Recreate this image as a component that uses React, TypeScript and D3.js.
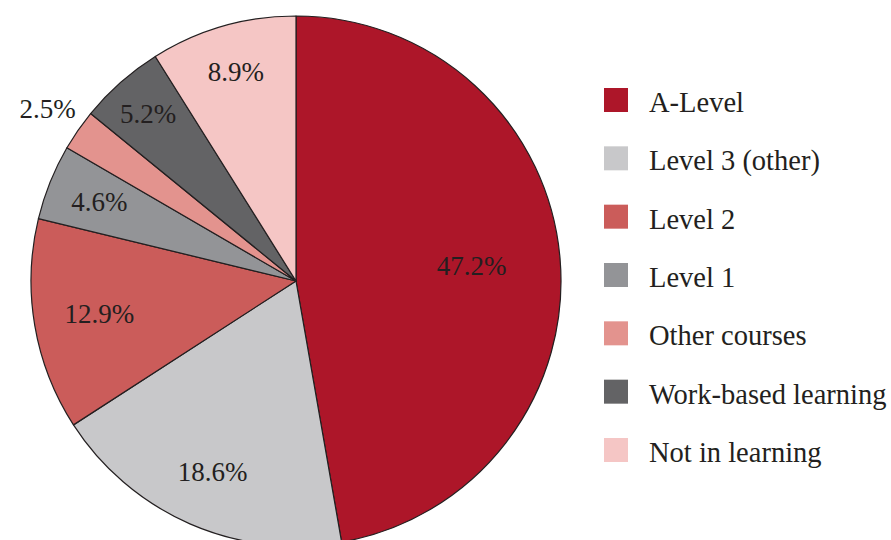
import React from "react";
import * as d3 from "d3";

const categories = [
  "A-Level",
  "Level 3 (other)",
  "Level 2",
  "Level 1",
  "Other courses",
  "Work-based learning",
  "Not in learning",
];
const values = [47.2, 18.6, 12.9, 4.6, 2.5, 5.2, 8.9];
const valueLabels = ["47.2%", "18.6%", "12.9%", "4.6%", "2.5%", "5.2%", "8.9%"];

const colors = ["#AD1629", "#C8C8CA", "#CB5C5A", "#939497", "#E3938E", "#636365", "#F5C6C5"];
// label distance from centre, as a fraction of the radius
const labelRadius = [0.665, 0.785, 0.753, 0.8, 1.14, 0.843, 0.82];

const W = 891;
const H = 540;
const cx = 296;
const cy = 281;
const R = 265;
const FONT = "Liberation Serif";
const TEXT = "#231f20";

export default function App() {
  const pie = d3
    .pie<number>()
    .sort(null)
    .value((d) => d)
    .startAngle(0)
    .endAngle(2 * Math.PI);
  const arcs = pie(values);
  const arc = d3.arc<d3.PieArcDatum<number>>().innerRadius(0).outerRadius(R);

  const legendY = d3
    .scalePoint<string>()
    .domain(categories)
    .range([88, 438]);

  return (
    <svg
      width={W}
      height={H}
      style={{ position: "absolute", left: 0, top: 0, background: "#fff", fontFamily: FONT }}
    >
      <g transform={`translate(${cx},${cy})`}>
        {arcs.map((a, i) => (
          <path
            key={i}
            d={arc(a) || ""}
            fill={colors[i]}
            stroke={TEXT}
            strokeWidth={1.2}
            strokeLinejoin="round"
          />
        ))}
        {arcs.map((a, i) => {
          const r = R * labelRadius[i];
          const la = d3.arc<d3.PieArcDatum<number>>().innerRadius(r).outerRadius(r);
          const [x, y] = la.centroid(a);
          return (
            <text
              key={"l" + i}
              x={x}
              y={y}
              textAnchor="middle"
              dominantBaseline="central"
              style={{ fontFamily: FONT, fontSize: 27 }}
              fill={TEXT}
            >
              {valueLabels[i]}
            </text>
          );
        })}
      </g>
      <g>
        {categories.map((c, i) => {
          const y = legendY(c) as number;
          return (
            <g key={c}>
              <rect x={604} y={y} width={24} height={24} fill={colors[i]} />
              <text
                x={649}
                y={y + 24}
                style={{ fontFamily: FONT, fontSize: 28.5 }}
                fill={TEXT}
              >
                {c}
              </text>
            </g>
          );
        })}
      </g>
    </svg>
  );
}
